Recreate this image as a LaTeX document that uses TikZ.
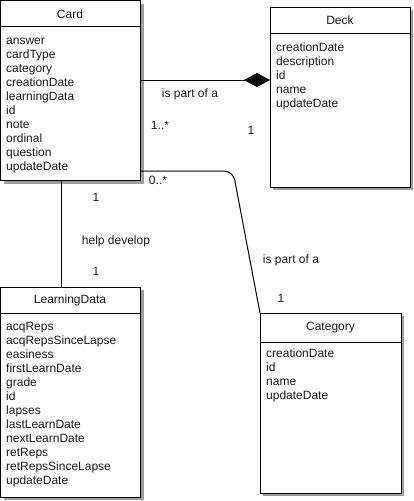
\documentclass[tikz,border=0pt]{standalone}
\usepackage{fontspec}
\setmainfont{Liberation Sans}
\usetikzlibrary{arrows.meta}
\definecolor{shadowc}{gray}{0.62}
\definecolor{txt}{gray}{0.1}
\tikzset{
  umlbox/.style={draw, fill=white, line width=1pt, inner sep=0pt, outer sep=0pt, anchor=north west},
  titletext/.style={font=\fontsize{12}{14}\selectfont, text=txt, inner sep=0pt},
  attr/.style={font=\fontsize{12}{14}\selectfont, text=txt, inner sep=0pt, anchor=base west},
  lbl/.style={font=\fontsize{12}{14}\selectfont, text=txt, inner sep=0pt},
  conn/.style={line width=1pt, draw=black}
}
\begin{document}
\begin{tikzpicture}[x=1pt,y=-1pt]
\useasboundingbox (0,0) rectangle (413,501);
% shadows
\fill[shadowc] (3.5,3.5) rectangle (143.5,183.5);
\fill[shadowc] (273,10) rectangle (413,190);
\fill[shadowc] (3.5,290) rectangle (143.5,500);
\fill[shadowc] (263,316) rectangle (404,496);
% Card
\node[umlbox, minimum width=139.5pt, minimum height=179.5pt] (card) at (0.5,0.5) {};
\draw[line width=1pt] (0.5,26) -- (140,26);
\node[titletext] (cardT) at (70,14) {Card};
\foreach \t [count=\i] in {answer,cardType,category,creationDate,learningData,id,note,ordinal,question,updateDate}
  \node[attr] (cardA\i) at (6,30+14*\i) {\t};
% Deck
\node[umlbox, minimum width=140pt, minimum height=180pt] (deck) at (270,7) {};
\draw[line width=1pt] (270,33) -- (410,33);
\node[titletext] (deckT) at (340,20.5) {Deck};
\foreach \t [count=\i] in {creationDate,description,id,name,updateDate}
  \node[attr] (deckA\i) at (276,37+14*\i) {\t};
% LearningData
\node[umlbox, minimum width=139.5pt, minimum height=210pt] (ld) at (0.5,287) {};
\draw[line width=1pt] (0.5,313) -- (140,313);
\node[titletext] (ldT) at (70,300.5) {LearningData};
\foreach \t [count=\i] in {acqReps,acqRepsSinceLapse,easiness,firstLearnDate,grade,id,lapses,lastLearnDate,nextLearnDate,retReps,retRepsSinceLapse,updateDate}
  \node[attr] (ldA\i) at (6,316+14*\i) {\t};
% Category
\node[umlbox, minimum width=141pt, minimum height=180pt] (cat) at (260,313) {};
\draw[line width=1pt] (260,342) -- (401,342);
\node[titletext] (catT) at (330.5,328) {Category};
\foreach \t [count=\i] in {creationDate,id,name,updateDate}
  \node[attr] (catA\i) at (266,343+14*\i) {\t};
% connectors
\draw[conn, -{Diamond[length=26pt,width=14pt,fill=black]}] (card.east |- 0,80) -- (deck.west |- 0,80);
\draw[conn, rounded corners=9pt] (card.east |- 0,171) -- (233,171) -- (cat.north west);
\draw[conn] (card.south -| 61,0) -- (ld.north -| 61,0);
% labels
\node[lbl] (l1) at (190,94) {is part of a};
\node[lbl] (l2) at (160,125) {1..*};
\node[lbl] (l3) at (251,130) {1};
\node[lbl] (l4) at (158,180) {0..*};
\node[lbl] (l5) at (291,260) {is part of a};
\node[lbl] (l6) at (281,298) {1};
\node[lbl] (l7) at (96,197) {1};
\node[lbl] (l8) at (116,241) {help develop};
\node[lbl] (l9) at (96,271) {1};
\end{tikzpicture}
\end{document}
